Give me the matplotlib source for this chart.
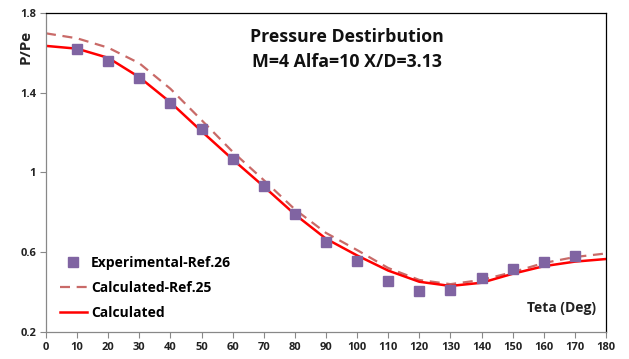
import matplotlib
matplotlib.use("Agg")
import matplotlib.pyplot as plt
from matplotlib.lines import Line2D

# Circumferential angle, degrees
teta_calc = [0, 10, 20, 30, 40, 50, 60, 70, 80, 90, 100, 110, 120, 130, 140, 150, 160, 170, 180]
p_calc = [1.635, 1.621, 1.575, 1.478, 1.352, 1.207, 1.066, 0.930, 0.790, 0.668, 0.584,
          0.508, 0.452, 0.431, 0.447, 0.492, 0.530, 0.553, 0.566]
p_ref25 = [1.698, 1.673, 1.626, 1.548, 1.420, 1.263, 1.104, 0.962, 0.815, 0.697, 0.611,
           0.521, 0.461, 0.440, 0.461, 0.500, 0.546, 0.576, 0.594]

teta_exp = [10, 20, 30, 40, 50, 60, 70, 80, 90, 100, 110, 120, 130, 140, 150, 160, 170]
p_exp = [1.621, 1.561, 1.476, 1.350, 1.217, 1.068, 0.932, 0.792, 0.650, 0.555,
         0.458, 0.407, 0.412, 0.473, 0.516, 0.553, 0.581]

x_ticks = list(range(0, 181, 10))
y_ticks = [0.2, 0.6, 1.0, 1.4, 1.8]
y_tick_labels = ["0.2", "0.6", "1", "1.4", "1.8"]

plt.rcParams['font.family'] = ['Open Sans', 'DejaVu Sans']

fig = plt.figure(figsize=(6.29, 3.59), dpi=100)
ax = fig.add_axes([0.0731, 0.0752, 0.8903, 0.8886])

c_exp = '#8064A2'
c_calc = '#FF0000'
c_ref = '#C0504D'

ax.plot(teta_exp, p_exp, linestyle='none', marker='s', markersize=7.5,
        color=c_exp, zorder=3)
ax.plot(teta_calc, p_ref25, color=c_ref, linewidth=1.6, dashes=(4.5, 3), alpha=0.85, zorder=2)
ax.plot(teta_calc, p_calc, color=c_calc, linewidth=1.8, zorder=2.5)

ax.set_xlim(0, 180)
ax.set_ylim(0.2, 1.8)
ax.set_xticks(x_ticks)
ax.set_xticklabels([str(v) for v in x_ticks])
ax.set_yticks(y_ticks)
ax.set_yticklabels(y_tick_labels)

for lab in ax.get_xticklabels() + ax.get_yticklabels():
    lab.set_fontweight('bold')
    lab.set_fontsize(8)
    lab.set_color('#222222')

ax.tick_params(axis='both', direction='out', length=4, width=0.8, color='#888888', pad=3)
ax.spines['left'].set_color('#888888')
ax.spines['bottom'].set_color('#888888')
ax.spines['top'].set_color('black')
ax.spines['right'].set_color('black')
for s in ax.spines.values():
    s.set_linewidth(0.9)

ax.set_ylabel('P/Pe', fontsize=11, fontweight='bold', color='#222222')
ax.yaxis.set_label_coords(-0.024, 0.895)

ax.text(96.8, 1.68, 'Pressure Destirbution', ha='center', va='center',
        fontsize=12.8, fontweight='bold', color='#111111')
ax.text(96.8, 1.553, 'M=4 Alfa=10 X/D=3.13', ha='center', va='center',
        fontsize=12.8, fontweight='bold', color='#111111')
ax.text(176.8, 0.32, 'Teta (Deg)', ha='right', va='center',
        fontsize=10, fontweight='bold', color='#222222')

handles = [
    Line2D([], [], linestyle='none', marker='s', markersize=7, color=c_exp),
    Line2D([], [], color=c_ref, linewidth=1.6, dashes=(4.5, 3), alpha=0.85),
    Line2D([], [], color=c_calc, linewidth=1.8),
]
labels = ['Experimental-Ref.26', 'Calculated-Ref.25', 'Calculated']
leg = ax.legend(handles, labels, loc='lower left', bbox_to_anchor=(0.002, 0.0),
                frameon=False, handlelength=2.0, handletextpad=0.25,
                labelspacing=0.78, prop={'weight': 'bold', 'size': 10})

fig.savefig('out.png', dpi=100)
